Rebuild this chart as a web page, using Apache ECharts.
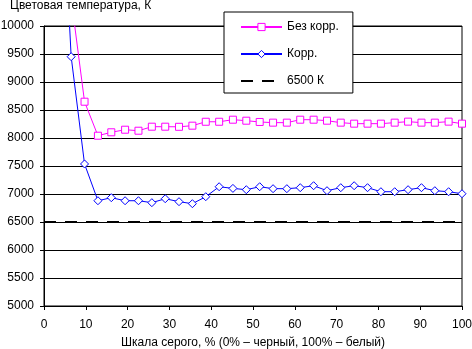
<!DOCTYPE html>
<html>
<head>
<meta charset="utf-8">
<script src="https://cdn.jsdelivr.net/npm/echarts@6/dist/echarts.min.js"></script>
<style>
  html, body { margin: 0; padding: 0; background: #fff; }
  #chart { width: 472px; height: 349px; }
</style>
</head>
<body>
<div id="chart"></div>
<script>
// Gray level of each measured patch, %
var grayLevels = [0, 3.2, 6.5, 9.7, 12.9, 16.1, 19.4, 22.6, 25.8, 29.0, 32.3, 35.5, 38.7, 41.9, 45.2, 48.4,
                  51.6, 54.8, 58.1, 61.3, 64.5, 67.7, 71.0, 74.2, 77.4, 80.6, 83.9, 87.1, 90.3, 93.5, 96.8, 100];

// Colour temperature without correction, K
var uncorrected = [14000, 12200, 10490, 8648, 8041, 8102, 8148, 8130, 8202, 8202, 8200, 8220, 8290, 8290, 8327, 8309,
                   8286, 8274, 8274, 8327, 8327, 8309, 8274, 8256, 8256, 8256, 8274, 8292, 8274, 8274, 8292, 8256];

// Colour temperature with correction, K
var corrected = [16000, 14270, 9452, 7536, 6880, 6934, 6880, 6880, 6845, 6916, 6863, 6827, 6952, 7130, 7100, 7077,
                 7130, 7095, 7095, 7113, 7148, 7059, 7113, 7148, 7113, 7041, 7041, 7077, 7113, 7059, 7041, 7005];

// Reference white point
var referenceX = [0, 100];
var referenceK = [6500, 6500];

var seriesNames = ['Без корр.', 'Корр.', '6500 К'];
var yTicks = { min: 5000, max: 10000, step: 500 };
var xTicks = { min: 0, max: 100, step: 10 };

function pairs(xs, ys) {
  return xs.map(function (x, i) { return [x, ys[i]]; });
}

var font = 'Arial, "Liberation Sans", sans-serif';
var chart = echarts.init(document.getElementById('chart'), null, { renderer: 'canvas' });

chart.setOption({
  animation: false,
  backgroundColor: '#fff',
  textStyle: { fontFamily: font, color: '#000', fontSize: 12 },
  title: {
    text: 'Цветовая температура, К',
    left: 10, top: 0, padding: 0,
    textStyle: { fontFamily: font, fontSize: 12, fontWeight: 'normal', color: '#000' }
  },
  grid: {
    left: 44, right: 10, top: 26, bottom: 43,
    containLabel: false, outerBoundsMode: 'none',
    show: true, borderColor: '#000', borderWidth: 1, backgroundColor: 'transparent'
  },
  legend: {
    orient: 'vertical',
    left: 224, top: 12,
    padding: [9, 14, 6, 16],
    itemWidth: 41, itemHeight: 9, itemGap: 15,
    backgroundColor: '#fff', borderColor: '#000', borderWidth: 1, borderRadius: 0,
    textStyle: { fontFamily: font, fontSize: 12, color: '#000' },
    data: [
      { name: seriesNames[0], itemStyle: { borderWidth: 1 } },
      { name: seriesNames[1], itemStyle: { borderWidth: 1 } },
      { name: seriesNames[2], itemStyle: { opacity: 0 } }
    ]
  },
  xAxis: {
    type: 'value',
    min: xTicks.min, max: xTicks.max, interval: xTicks.step,
    name: 'Шкала серого, % (0% – черный, 100% – белый)',
    nameLocation: 'middle', nameGap: 31,
    nameTextStyle: { fontFamily: font, fontSize: 12, color: '#000' },
    axisLine: { show: true, lineStyle: { color: '#000', width: 1 } },
    axisTick: { show: true, length: 4, lineStyle: { color: '#000' } },
    axisLabel: { fontFamily: font, fontSize: 12, color: '#000', margin: 13 },
    splitLine: { show: false }
  },
  yAxis: {
    type: 'value',
    min: yTicks.min, max: yTicks.max, interval: yTicks.step,
    axisLine: { show: true, lineStyle: { color: '#000', width: 1 } },
    axisTick: { show: true, length: 4, lineStyle: { color: '#000' } },
    axisLabel: {
      fontFamily: font, fontSize: 12, color: '#000', margin: 10,
      formatter: function (v) { return String(v); }
    },
    splitLine: { show: true, lineStyle: { color: '#000', width: 1 } }
  },
  series: [
    {
      name: seriesNames[0],
      type: 'line',
      data: pairs(grayLevels, uncorrected),
      symbol: 'rect', symbolSize: 7,
      lineStyle: { color: '#ff00ff', width: 1 },
      itemStyle: { color: '#fff', borderColor: '#ff00ff', borderWidth: 1 },
      z: 3
    },
    {
      name: seriesNames[1],
      type: 'line',
      data: pairs(grayLevels, corrected),
      symbol: 'diamond', symbolSize: 8,
      lineStyle: { color: '#0000ff', width: 1 },
      itemStyle: { color: '#fff', borderColor: '#0000ff', borderWidth: 1 },
      z: 4
    },
    {
      name: seriesNames[2],
      type: 'line',
      data: pairs(referenceX, referenceK),
      symbol: 'none',
      lineStyle: { color: '#000', width: 2, type: [12, 9] },
      itemStyle: { color: '#000' },
      z: 2
    }
  ]
});
</script>
</body>
</html>
